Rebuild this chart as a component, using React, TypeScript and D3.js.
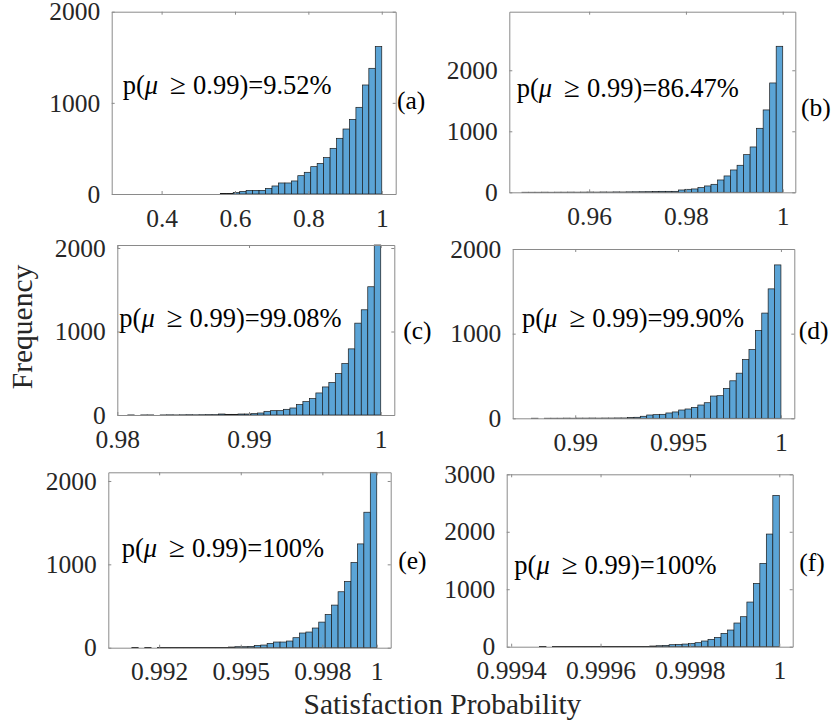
import { useEffect, useRef } from 'react';
import * as d3 from 'd3';

// histogram counts (40 bins each), left to right
const countsA = [0, 0, 0, 0, 0, 0, 0, 0, 0, 0, 0, 0, 0, 0, 0,
  7, 7, 15, 29, 40, 40, 40, 62, 88, 121, 121, 143, 201, 238, 300, 336, 399, 501, 611, 713, 819, 951, 1196, 1379, 1617];
const countsB = [1, 1, 1, 2, 1, 2, 2, 3, 2, 3, 4, 3, 5, 4, 6, 5, 7, 8, 9, 10, 12,
  16, 16, 16, 38, 49, 55, 77, 104, 131, 202, 268, 366, 443, 617, 743, 1049, 1350, 1792, 2393];
const countsC = [0, 1, 0, 1, 1, 0, 1, 2, 1, 2, 3, 2, 3, 4,
  4, 12, 8, 8, 12, 12, 16, 24, 44, 52, 52, 68, 84, 124, 160, 196, 264, 336, 388, 496, 616, 792, 1100, 1260, 1536, 2036];
const countsD = [0, 1, 0, 1, 1, 1, 2, 1, 2, 2, 3, 2, 3, 3, 4,
  4, 8, 12, 24, 39, 43, 47, 63, 75, 98, 110, 129, 157, 184, 263, 267, 353, 443, 533, 694, 812, 1039, 1243, 1529, 1812];
const countsE = [0, 0, 1, 0, 1, 0, 1, 1, 1, 2, 1, 2, 2, 3, 3, 4, 4,
  8, 12, 12, 16, 28, 32, 52, 68, 68, 80, 120, 176, 188, 236, 307, 399, 511, 671, 794, 1022, 1245, 1625, 2104];
const countsF = [0, 0, 0, 1, 0, 1, 1, 1, 2, 1, 2, 2, 3, 3, 3, 4, 4,
  3, 6, 6, 12, 17, 23, 35, 41, 46, 58, 70, 99, 128, 162, 232, 290, 412, 522, 777, 1102, 1450, 1960, 2633];

const allCounts = [countsA, countsB, countsC, countsD, countsE, countsF];
const binRanges = [[0.296, 1], [0.9461, 1], [0.9803, 1], [0.98757, 1], [0.99052, 1], [0.99942, 1]];
const xLimits = [[0.264, 1.038], [0.9435, 1.0026], [0.98, 1.00103], [0.98696, 1.00065], [0.99013, 1.000513], [0.99939, 1.00003]];
const yLimits = [2000, 2960, 2036, 2000, 2104, 3000];

const xTicks = [[0.4, 0.6, 0.8, 1], [0.96, 0.98, 1], [0.98, 0.99, 1], [0.99, 0.995, 1], [0.992, 0.995, 0.998, 1], [0.9994, 0.9996, 0.9998, 1]];
const xTickLabels = [['0.4', '0.6', '0.8', '1'], ['0.96', '0.98', '1'], ['0.98', '0.99', '1'], ['0.99', '0.995', '1'],
  ['0.992', '0.995', '0.998', '1'], ['0.9994', '0.9996', '0.9998', '1']];
const yTicks = [[0, 1000, 2000], [0, 1000, 2000], [0, 1000, 2000], [0, 1000, 2000], [0, 1000, 2000], [0, 1000, 2000, 3000]];

const panelTags = ['(a)', '(b)', '(c)', '(d)', '(e)', '(f)'];
const probValues = ['9.52%', '86.47%', '99.08%', '99.90%', '100%', '100%'];

// layout (px)
const boxes = [
  { l: 111.7, r: 395.7, t: 11.7, b: 194 },
  { l: 509.3, r: 795.3, t: 11.7, b: 192.3 },
  { l: 117.3, r: 394.3, t: 245, b: 415 },
  { l: 512.7, r: 794.3, t: 249, b: 418.3 },
  { l: 108.3, r: 390.7, t: 472.3, b: 647.7 },
  { l: 506.7, r: 792.7, t: 474.3, b: 646.7 },
];
const notePos = [[122.7, 94], [516.7, 97], [119.3, 327.3], [522, 326.7], [121.7, 557.3], [514.3, 574]];
const tagPos = [[397, 109.3], [801, 116], [403.3, 339.3], [798.7, 339.3], [398.3, 569.3], [799.3, 571]];

const FONT = "'Liberation Serif', 'Times New Roman', serif";
const AXIS = '#8a8a8a';

export default function App() {
  const svgRef = useRef<SVGSVGElement>(null);

  useEffect(() => {
    const svg = d3.select(svgRef.current);
    svg.selectAll('*').remove();

    allCounts.forEach((counts, i) => {
      const box = boxes[i];
      const x = d3.scaleLinear().domain(xLimits[i]).range([box.l, box.r]);
      const y = d3.scaleLinear().domain([0, yLimits[i]]).range([box.b, box.t]);
      const [lo, hi] = binRanges[i];
      const w = (hi - lo) / counts.length;
      const bins = counts.map((c, k) => ({ x0: lo + k * w, x1: lo + (k + 1) * w, c }));

      const g = svg.append('g');

      g.selectAll('rect.bar')
        .data(bins.filter(d => d.c > 0))
        .enter()
        .append('rect')
        .attr('class', 'bar')
        .attr('x', d => x(d.x0))
        .attr('width', d => x(d.x1) - x(d.x0))
        .attr('y', d => y(d.c))
        .attr('height', d => y(0) - y(d.c))
        .attr('fill', '#5ba4d6')
        .attr('stroke', '#1a1a1a')
        .attr('stroke-width', 0.7);

      // axes (ticks inward, mirrored on top/right)
      const styleAxis = (a: any) => {
        a.select('.domain').attr('stroke', AXIS);
        a.selectAll('.tick line').attr('stroke', AXIS);
        a.selectAll('text').attr('fill', '#262626');
        a.attr('font-family', FONT).attr('font-size', 25.5);
      };

      g.append('g')
        .attr('transform', `translate(0,${box.b})`)
        .call(d3.axisBottom(x).tickValues(xTicks[i]).tickFormat((_, k) => xTickLabels[i][k])
          .tickSizeInner(-3).tickSizeOuter(0).tickPadding(14.5))
        .call(styleAxis);
      g.append('g')
        .attr('transform', `translate(0,${box.t})`)
        .call(d3.axisTop(x).tickValues(xTicks[i]).tickFormat(() => '').tickSizeInner(-3).tickSizeOuter(0))
        .call(styleAxis);
      g.append('g')
        .attr('transform', `translate(${box.l},0)`)
        .call(d3.axisLeft(y).tickValues(yTicks[i]).tickFormat(d3.format('d'))
          .tickSizeInner(-3).tickSizeOuter(0).tickPadding(11.5))
        .call(styleAxis);
      g.append('g')
        .attr('transform', `translate(${box.r},0)`)
        .call(d3.axisRight(y).tickValues(yTicks[i]).tickFormat(() => '').tickSizeInner(-3).tickSizeOuter(0))
        .call(styleAxis);

      // annotation
      const note = g.append('text')
        .attr('x', notePos[i][0])
        .attr('y', notePos[i][1])
        .attr('font-family', FONT)
        .attr('font-size', 26.5)
        .attr('fill', '#000');
      note.append('tspan').text('p(');
      note.append('tspan').attr('font-style', 'italic').text('μ');
      note.append('tspan').attr('dx', 12).attr('font-size', 29).text('≥');
      note.append('tspan').attr('dx', 7).text(`0.99)=${probValues[i]}`);

      g.append('text')
        .attr('x', tagPos[i][0])
        .attr('y', tagPos[i][1])
        .attr('font-family', FONT)
        .attr('font-size', 25.5)
        .attr('fill', '#000')
        .text(panelTags[i]);
    });

    svg.append('text')
      .attr('transform', 'translate(32,327) rotate(-90)')
      .attr('text-anchor', 'middle')
      .attr('font-family', FONT)
      .attr('font-size', 29.5)
      .attr('fill', '#262626')
      .text('Frequency');

    svg.append('text')
      .attr('x', 442.5)
      .attr('y', 714)
      .attr('text-anchor', 'middle')
      .attr('font-family', FONT)
      .attr('font-size', 29.5)
      .attr('fill', '#262626')
      .text('Satisfaction Probability');
  }, []);

  return (
    <svg
      ref={svgRef}
      width={832}
      height={728}
      style={{ position: 'absolute', left: 0, top: 0, background: '#fff' }}
    />
  );
}
